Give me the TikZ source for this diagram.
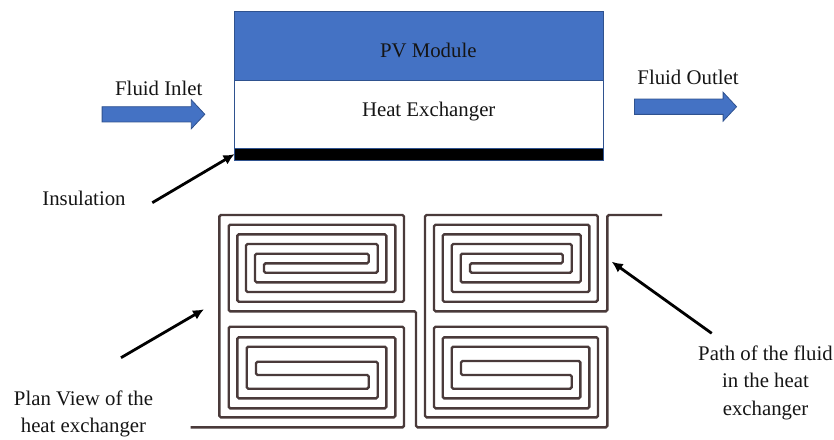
\documentclass[tikz,border=0pt]{standalone}
\usepackage{fontspec}
\setmainfont{Liberation Serif}
\usetikzlibrary{arrows.meta}
\usetikzlibrary{shapes.arrows}
\definecolor{mblue}{HTML}{4472C4}
\definecolor{mline}{HTML}{2F528F}
\definecolor{mcoil}{HTML}{4A3A3A}
\definecolor{mtext}{HTML}{151515}
\tikzset{
  lbl/.style={anchor=base, inner sep=0pt, align=center, text=mtext,
    font=\fontsize{20.8}{27.3}\selectfont},
  layer/.style={anchor=north west, inner sep=0pt, outer sep=0pt, minimum width=368.8pt, draw=mline, line width=0.8pt},
  blockarrow/.style={single arrow, draw=mline, fill=mblue, line width=0.8pt, inner sep=0pt, outer sep=0pt,
    text height=14.5pt, text depth=0pt, minimum width=28pt, single arrow head extend=6.8pt, single arrow tip angle=94},
  pointer/.style={-{Latex[length=11pt, width=10.5pt]}, line width=2.8pt, black},
  coil/.style={mcoil, line width=2.4pt, rounded corners=1.5pt}
}
\begin{document}
\begin{tikzpicture}[x=1pt, y=-1pt]
      \useasboundingbox (0, 0) rectangle (834, 439);

      \node [layer, fill=mblue, minimum height=69pt] (pvmodule) at (234.5, 11) {};
      \node [layer, fill=white, minimum height=68.3pt] (exchanger) at (234.5, 80) {};
      \node [layer, fill=black, minimum height=11.7pt] (insulbar) at (234.5, 148.3) {};

      \node [lbl] (pvtext) at (428.3, 57.3) {PV Module};
      \node [lbl] (hxtext) at (428.7, 116.7) {Heat Exchanger};
      \node [lbl] (inlettext) at (158.8, 95) {Fluid Inlet};
      \node [lbl] (outlettext) at (688, 84) {Fluid Outlet};
      \node [lbl] (insultext) at (84, 205.5) {Insulation};
      \node [lbl] (plantext) at (83.5, 432.7) {Plan View of the\\heat exchanger};
      \node [lbl] (pathtext) at (765.5, 415) {Path of the fluid\\in the heat\\exchanger};

      \node [blockarrow, minimum height=102.7pt] (inlet) at (149.9, 114.3) {};
      \node [blockarrow, minimum height=102pt] (outlet) at (682, 106.7) {};

      % serpentine, one single line from outlet side to inlet side
      \draw [coil] (662, 215) -- (607.3, 215) -- (607.3, 311.3) -- (434, 311.3) -- (434, 224.7) -- (589.3, 224.7) -- (589.3, 292) -- (451.7, 292) -- (451.7, 244) -- (571.7, 244) -- (571.7, 272.7) -- (470, 272.7) -- (470, 263.3) -- (562.7, 263.3) -- (562.7, 253.7) -- (460.7, 253.7) -- (460.7, 282.3) -- (580.7, 282.3) -- (580.7, 234.3) -- (442.7, 234.3) -- (442.7, 301.7) -- (597.7, 301.7) -- (597.7, 215) -- (425, 215) -- (425, 417.3) -- (598, 417.3) -- (598, 337.3) -- (442.7, 337.3) -- (442.7, 398.3) -- (580.3, 398.3) -- (580.3, 361) -- (461, 361) -- (461, 375) -- (571.7, 375) -- (571.7, 388.7) -- (451.7, 388.7) -- (451.7, 346.7) -- (589.3, 346.7) -- (589.3, 408.3) -- (434, 408.3) -- (434, 326.7) -- (607.3, 326.7) -- (607.3, 427.3) -- (416, 427.3) -- (416, 311.3) -- (228.7, 311.3) -- (228.7, 224.7) -- (395.3, 224.7) -- (395.3, 292) -- (246, 292) -- (246, 244) -- (377.7, 244) -- (377.7, 272.7) -- (264, 272.7) -- (264, 263.3) -- (368.7, 263.3) -- (368.7, 253.7) -- (255, 253.7) -- (255, 282.3) -- (386.3, 282.3) -- (386.3, 234.3) -- (237.3, 234.3) -- (237.3, 301.7) -- (404, 301.7) -- (404, 215) -- (219.3, 215) -- (219.3, 417.3) -- (395.3, 417.3) -- (395.3, 337.3) -- (237.3, 337.3) -- (237.3, 398.3) -- (377.7, 398.3) -- (377.7, 361.7) -- (256, 361.7) -- (256, 375) -- (368.7, 375) -- (368.7, 388.7) -- (246.7, 388.7) -- (246.7, 346.7) -- (386.3, 346.7) -- (386.3, 408.3) -- (228.7, 408.3) -- (228.7, 326.7) -- (404, 326.7) -- (404, 427.3) -- (190.7, 427.3);

      \coordinate (insulfrom) at (152.3, 202.7);
      \coordinate (planfrom) at (121, 357.7);
      \coordinate (planto) at (204, 309.3);
      \coordinate (pathfrom) at (711.7, 333.3);
      \coordinate (pathto) at (611.7, 261.7);

      \draw [pointer] (insulfrom) -- (insulbar.west);
      \draw [pointer] (planfrom) -- (planto);
      \draw [pointer] (pathfrom) -- (pathto);
    \end{tikzpicture}
\end{document}
